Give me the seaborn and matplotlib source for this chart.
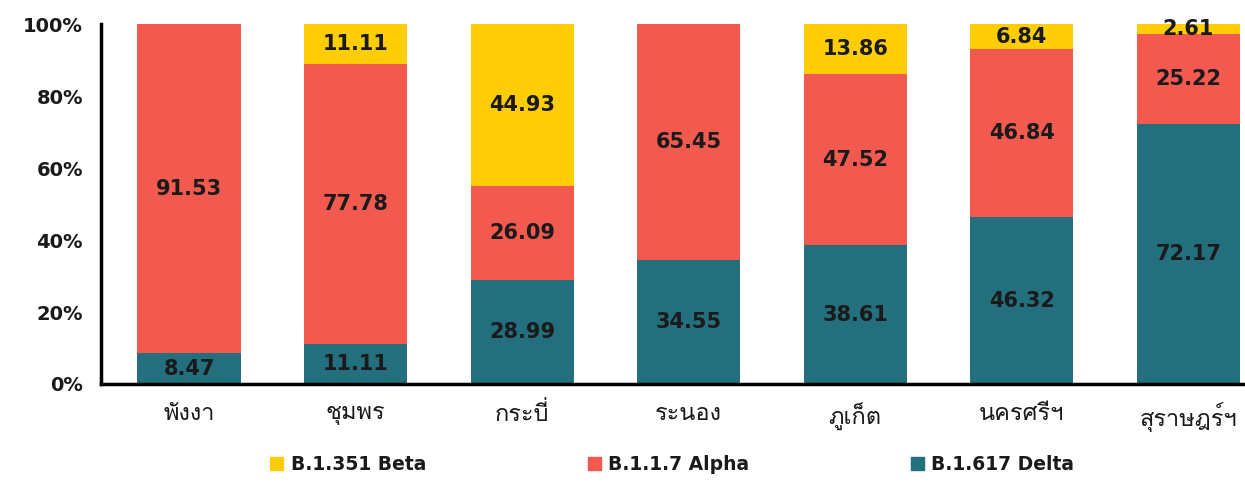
import matplotlib
matplotlib.use("Agg")
import matplotlib.pyplot as plt
import seaborn as sns
import pandas as pd
from matplotlib.patches import Patch
from matplotlib import font_manager
from matplotlib.ft2font import FT2Font

# --- Dados ---
provinces = ["พังงา", "ชุมพร", "กระบี่", "ระนอง", "ภูเก็ต", "นครศรีฯ", "สุราษฎร์ฯ"]
delta = [8.47, 11.11, 28.99, 34.55, 38.61, 46.32, 72.17]
alpha = [91.53, 77.78, 26.09, 65.45, 47.52, 46.84, 25.22]
beta = [0, 11.11, 44.93, 0, 13.86, 6.84, 2.61]
series_names = ["B.1.351 Beta", "B.1.1.7 Alpha", "B.1.617 Delta"]
y_ticks = [0, 20, 40, 60, 80, 100]

C_BETA = "#FFCD05"
C_ALPHA = "#F25A4F"
C_DELTA = "#236F7D"
TXT = "#1a1a1a"


def find_thai_families():
    """Procura fontes instaladas que tenham glifos tailandeses."""
    found = []
    for f in font_manager.fontManager.ttflist:
        try:
            ft = FT2Font(f.fname)
            if ft.get_char_index(ord("ก")) and ft.get_char_index(ord("ษ")):
                if f.name not in found:
                    found.append(f.name)
        except Exception:
            pass
    return found


thai = find_thai_families()

sns.set_theme(style="white")
plt.rcParams["font.family"] = ["DejaVu Sans"] + thai
fam_thai = thai + ["DejaVu Sans"]

df = pd.DataFrame({"prov": provinces, "delta": delta, "alpha": alpha, "beta": beta})
df["da"] = df["delta"] + df["alpha"]
df["total"] = df["da"] + df["beta"]

fig, ax = plt.subplots(figsize=(12.45, 4.86), dpi=100)
fig.subplots_adjust(left=0.081, right=1.0, top=0.95, bottom=0.21)

# barras empilhadas: desenha do topo para a base
for col, color in [("total", C_BETA), ("da", C_ALPHA), ("delta", C_DELTA)]:
    sns.barplot(data=df, x="prov", y=col, color=color, width=0.62,
                saturation=1, ax=ax, edgecolor="none")

# rótulos dos segmentos
for i, row in df.iterrows():
    segs = [(0, row["delta"]), (row["delta"], row["alpha"]), (row["da"], row["beta"])]
    for base, val in segs:
        if val > 0:
            ax.text(i, base + val / 2, f"{val:.2f}", ha="center", va="center",
                    fontsize=15, fontweight="bold", color=TXT)

ax.set_xlim(-0.53, 6.34)
ax.set_ylim(0, 100)
ax.set_yticks(y_ticks)
ax.set_yticklabels([f"{t}%" for t in y_ticks], fontsize=14, fontweight="bold", color=TXT)
ax.set_xticks(range(len(provinces)))
ax.set_xticklabels(provinces, family=fam_thai, fontsize=17, color=TXT)
ax.set_xlabel("")
ax.set_ylabel("")
ax.tick_params(axis="x", length=0, pad=13)
ax.tick_params(axis="y", length=7, width=2.5, color="black", pad=6)
for side in ["top", "right"]:
    ax.spines[side].set_visible(False)
for side in ["left", "bottom"]:
    ax.spines[side].set_linewidth(2.5)
    ax.spines[side].set_color("black")

handles = [Patch(color=c) for c in [C_BETA, C_ALPHA, C_DELTA]]
leg = fig.legend(handles, series_names, loc="lower center", ncol=3,
                 bbox_to_anchor=(0.54, -0.01), frameon=False, fontsize=13.5,
                 handlelength=0.7, handleheight=0.7, handletextpad=0.4,
                 columnspacing=8.6)
for t in leg.get_texts():
    t.set_fontweight("bold")
    t.set_color(TXT)

plt.savefig("out.png", dpi=100)
